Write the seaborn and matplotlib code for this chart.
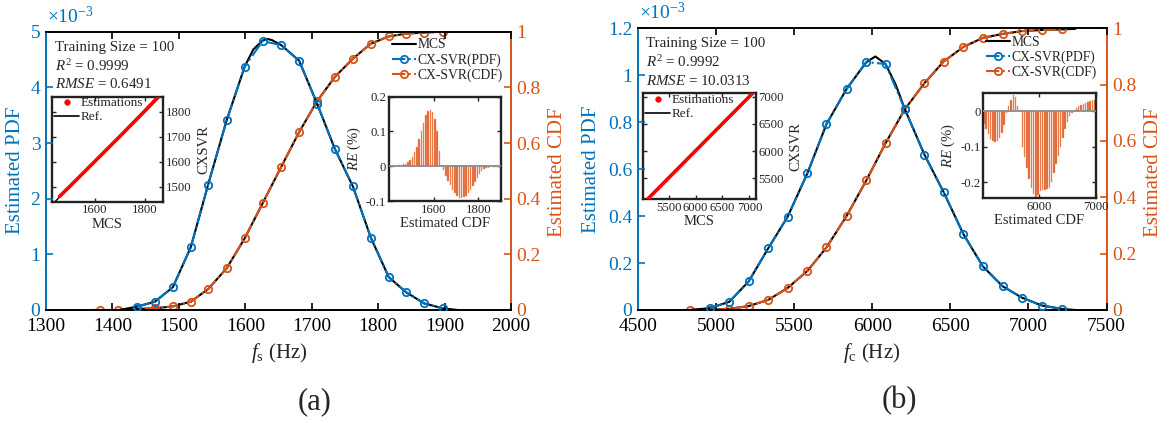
import numpy as np
import pandas as pd
import matplotlib
matplotlib.use("Agg")
import matplotlib.pyplot as plt
import seaborn as sns
from matplotlib.lines import Line2D

sns.set_style("ticks")
plt.rcParams["font.family"] = ["Liberation Serif", "DejaVu Serif"]
plt.rcParams["mathtext.fontset"] = "custom"
plt.rcParams["mathtext.rm"] = "Liberation Serif"
plt.rcParams["mathtext.it"] = "Liberation Serif:italic"
plt.rcParams["axes.unicode_minus"] = True

BLUE = "#0072BD"
ORANGE = "#D95319"

# ---------------- Panel (a) data ----------------
a_x = [1437, 1464, 1491, 1518, 1544, 1572, 1599, 1626, 1654, 1681, 1708, 1735,
       1762, 1789, 1816, 1842, 1869, 1897]
a_pdf = [0.06, 0.15, 0.41, 1.13, 2.25, 3.41, 4.37, 4.83, 4.76, 4.48, 3.71, 2.89,
         2.22, 1.30, 0.59, 0.32, 0.12, 0.03]          # x 1e-3
a_cdf_x = [1382, 1409] + a_x
a_cdf = [0.0, 0.0, 0.004, 0.006, 0.013, 0.03, 0.075, 0.15, 0.257, 0.383, 0.514,
         0.639, 0.75, 0.838, 0.903, 0.957, 0.983, 0.993, 0.997, 1.0]
a_mcs_pdf_x = [1410, 1437, 1464, 1491, 1518, 1544, 1572, 1599, 1612, 1626, 1633,
               1640, 1654, 1681, 1708, 1735, 1762, 1789, 1816, 1842, 1869, 1897, 1920]
a_mcs_pdf = [0.0, 0.06, 0.15, 0.41, 1.13, 2.25, 3.41, 4.37, 4.68, 4.84, 4.87,
             4.85, 4.76, 4.48, 3.71, 2.89, 2.22, 1.30, 0.59, 0.32, 0.12, 0.03, 0.0]
a_mcs_cdf_x = [1370] + a_cdf_x + [1920]
a_mcs_cdf = [0.0] + a_cdf + [1.0]

a_est_mcs = [1458, 1500, 1550, 1600, 1650, 1700, 1750, 1800, 1850, 1875]
a_est_cx = [1461, 1502, 1552, 1602, 1652, 1702, 1753, 1804, 1857, 1878]
a_ref = [1427, 1873]

a_re_x = list(range(1405, 1900, 10))
a_re = [0.001, 0.001, 0.002, 0.002, 0.003, 0.004, 0.005, 0.007, 0.011, 0.018,
        0.027, 0.040, 0.056, 0.077, 0.100, 0.125, 0.148, 0.160, 0.163, 0.155,
        0.135, 0.100, 0.045, 0.004, -0.012, -0.027, -0.042, -0.055, -0.067, -0.078,
        -0.086, -0.090, -0.090, -0.088, -0.085, -0.078, -0.068, -0.057, -0.045, -0.034,
        -0.023, -0.014, -0.009, -0.005, -0.004, -0.003, -0.003, -0.002, -0.002, -0.002]

# ---------------- Panel (b) data ----------------
b_x = [4960, 5085, 5209, 5334, 5458, 5585, 5707, 5836, 5962, 6085, 6209, 6334,
       6457, 6584, 6708, 6835, 6957, 7086, 7212]
b_pdf = [0.008, 0.035, 0.122, 0.263, 0.397, 0.583, 0.792, 0.942, 1.056, 1.048,
         0.855, 0.662, 0.502, 0.323, 0.186, 0.101, 0.053, 0.019, 0.005]   # x 1e-3
b_cdf_x = [4835] + b_x
b_cdf = [0.0, 0.001, 0.004, 0.014, 0.036, 0.078, 0.139, 0.222, 0.334, 0.46, 0.592,
         0.713, 0.805, 0.882, 0.934, 0.966, 0.98, 0.99, 0.994, 0.996]
b_mcs_pdf_x = [4830, 4960, 5085, 5209, 5334, 5458, 5585, 5707, 5836, 5962, 6020,
               6085, 6150, 6209, 6334, 6457, 6584, 6708, 6835, 6957, 7086, 7212, 7300]
b_mcs_pdf = [0.0, 0.008, 0.035, 0.122, 0.263, 0.397, 0.583, 0.792, 0.942, 1.056,
             1.080, 1.048, 0.96, 0.855, 0.662, 0.502, 0.323, 0.186, 0.101, 0.053,
             0.019, 0.005, 0.0]
b_mcs_cdf_x = [4800] + b_cdf_x + [7300]
b_mcs_cdf = [0.0] + b_cdf + [0.998]

b_est_mcs = [5120, 5500, 6000, 6500, 7000, 7070]
b_est_cx = [5125, 5505, 6005, 6505, 7004, 7075]
b_ref = [5033, 7115]

b_re_x = list(range(5020, 7000, 40))
b_re = [-0.035, -0.05, -0.065, -0.077, -0.084, -0.086, -0.083, -0.075, -0.062, -0.04,
        -0.005, 0.015, 0.03, 0.045, 0.04, 0.015, 0.002, -0.10, -0.13, -0.16,
        -0.19, -0.215, -0.232, -0.24, -0.235, -0.225, -0.222, -0.222, -0.22, -0.215,
        -0.2, -0.175, -0.15, -0.125, -0.1, -0.075, -0.05, -0.03, -0.015, -0.005,
        0.004, 0.01, 0.015, 0.018, 0.02, 0.022, 0.025, 0.028, 0.03, 0.032]

W, H = 1170, 423
fig = plt.figure(figsize=(W / 100, H / 100), dpi=100)


def px_rect(x0, y0, x1, y1):
    return [x0 / W, 1 - y1 / H, (x1 - x0) / W, (y1 - y0) / H]


def main_panel(rect, xs, pdf, cdfx, cdf, mx, mpdf, mcx, mcdf, xlim, ylim, xticks, yticks):
    ax = fig.add_axes(rect)
    ax2 = ax.twinx()
    ax.set_zorder(ax2.get_zorder() + 1)
    ax.patch.set_visible(False)
    lw = 1.5
    sns.lineplot(x=mx, y=mpdf, ax=ax, color="black", lw=lw, sort=False, zorder=2)
    sns.lineplot(x=xs, y=pdf, ax=ax, color=BLUE, lw=lw, ls="-.", marker="o",
                 markerfacecolor="none", markeredgecolor=BLUE, markeredgewidth=1.3,
                 markersize=5.3, sort=False, zorder=3)
    sns.lineplot(x=mcx, y=mcdf, ax=ax2, color="black", lw=lw, sort=False, zorder=2)
    sns.lineplot(x=cdfx, y=cdf, ax=ax2, color=ORANGE, lw=lw, ls="-.", marker="o",
                 markerfacecolor="none", markeredgecolor=ORANGE, markeredgewidth=1.3,
                 markersize=5.3, sort=False, zorder=3)
    ax.set_xlim(*xlim)
    ax.set_ylim(*ylim)
    ax2.set_ylim(0, 1)
    ax.set_xticks(xticks)
    ax.set_yticks(yticks)
    ax.set_yticklabels(["%g" % v for v in yticks])
    ax2.set_yticks([0, 0.2, 0.4, 0.6, 0.8, 1])
    ax2.set_yticklabels(["%g" % v for v in [0, 0.2, 0.4, 0.6, 0.8, 1]])
    for a in (ax, ax2):
        a.set_xlabel("")
        a.set_ylabel("")
        for s in a.spines.values():
            s.set_linewidth(1.4)
    ax.spines["right"].set_visible(False)
    ax.spines["left"].set_color(BLUE)
    ax.spines["top"].set_color("black")
    ax.spines["bottom"].set_color("black")
    for s in ("left", "top", "bottom"):
        ax2.spines[s].set_visible(False)
    ax2.spines["right"].set_color(ORANGE)
    ax.tick_params(axis="x", direction="in", top=True, length=5, width=1.2,
                   labelsize=14, pad=6, colors="black")
    ax.tick_params(axis="y", direction="in", length=5, width=1.2, labelsize=14,
                   pad=4, colors=BLUE, right=False)
    ax2.tick_params(axis="y", direction="in", length=5, width=1.2, labelsize=14,
                    pad=4, colors=ORANGE)
    return ax, ax2


def scatter_inset(rect, em, ec, ref, xlim, ylim, xticks, yticks, legend_anchor):
    ia = fig.add_axes(rect)
    ia.set_facecolor("white")
    sns.lineplot(x=ref, y=ref, ax=ia, color="black", lw=1.0, sort=False, zorder=2)
    sns.lineplot(x=em, y=ec, ax=ia, color="red", lw=2.6, sort=False, zorder=3)
    ia.set_xlim(*xlim)
    ia.set_ylim(*ylim)
    ia.set_xticks(xticks)
    ia.set_yticks(yticks)
    ia.yaxis.tick_right()
    ia.yaxis.set_label_position("right")
    ia.tick_params(direction="in", top=True, right=True, left=True, bottom=True,
                   length=3, width=1.0, labelsize=9.2, pad=2, labelleft=False,
                   labelright=True)
    for s in ia.spines.values():
        s.set_linewidth(1.7)
        s.set_color("#222222")
    ia.set_xlabel("MCS", fontsize=10.5, labelpad=1)
    ia.set_ylabel("CXSVR", fontsize=10.5, labelpad=4)
    handles = [Line2D([], [], color="red", marker="o", ls="none", ms=3.5),
               Line2D([], [], color="black", lw=1.2)]
    fig.legend(handles, ["Estimations", "Ref."], loc="upper left",
               bbox_to_anchor=legend_anchor, frameon=False, fontsize=9.5,
               borderpad=0, borderaxespad=0, handlelength=1.9, handletextpad=0.1,
               labelspacing=0.15)
    return ia


def re_inset(rect, rx, re, xlim, ylim, xticks, yticks, width):
    ia = fig.add_axes(rect)
    ia.set_facecolor("white")
    ia.bar(rx, re, width=width, color="#E0612A", edgecolor="#F0A080",
           linewidth=0.3, zorder=2)
    ia.axhline(0, color="#8C8C8C", lw=1.3, zorder=3)
    ia.set_xlim(*xlim)
    ia.set_ylim(*ylim)
    ia.set_xticks(xticks)
    ia.set_yticks(yticks)
    ia.set_yticklabels(["%g" % v for v in yticks])
    ia.tick_params(direction="in", top=True, right=True, length=3, width=1.0,
                   labelsize=9.2, pad=2)
    for s in ia.spines.values():
        s.set_linewidth(1.7)
        s.set_color("#222222")
    ia.set_xlabel("Estimated CDF", fontsize=10.5, labelpad=1)
    ia.set_ylabel(r"$RE$ (%)", fontsize=10.5, labelpad=2)
    return ia


def main_legend(anchor):
    handles = [Line2D([], [], color="black", lw=1.5),
               Line2D([], [], color=BLUE, lw=1.5, ls="-.", marker="o", mfc="none",
                      mec=BLUE, mew=1.3, ms=5.3),
               Line2D([], [], color=ORANGE, lw=1.5, ls="-.", marker="o", mfc="none",
                      mec=ORANGE, mew=1.3, ms=5.3)]
    fig.legend(handles, ["MCS", "CX-SVR(PDF)", "CX-SVR(CDF)"], loc="upper left",
               bbox_to_anchor=anchor, frameon=False, fontsize=9.8, borderpad=0,
               borderaxespad=0, handlelength=1.8, handletextpad=0.1,
               labelspacing=0.12)


def textbox(x, y_rows, r2, rmse):
    fig.text(x / W, 1 - y_rows[0] / H, "Training Size = 100", fontsize=10.8,
             va="baseline", ha="left")
    fig.text(x / W, 1 - y_rows[1] / H, r"$R^2$ = " + r2, fontsize=10.8,
             va="baseline", ha="left")
    fig.text(x / W, 1 - y_rows[2] / H, r"$RMSE$ = " + rmse, fontsize=10.8,
             va="baseline", ha="left")


# ---------------- Draw panel (a) ----------------
main_panel(px_rect(46, 31.7, 511, 310), a_x, a_pdf, a_cdf_x, a_cdf, a_mcs_pdf_x,
           a_mcs_pdf, a_mcs_cdf_x, a_mcs_cdf, (1300, 2000), (0, 5),
           list(range(1300, 2001, 100)), [0, 1, 2, 3, 4, 5])
scatter_inset(px_rect(51.7, 96.7, 163.3, 201.7), a_est_mcs, a_est_cx, a_ref,
              (1427, 1873), (1440, 1860), [1600, 1800], [1500, 1600, 1700, 1800],
              (54 / W, 1 - 97 / H))
re_inset(px_rect(389, 96.7, 500.7, 201), a_re_x, a_re, (1400, 1900), (-0.1, 0.2),
         [1600, 1800], [-0.1, 0, 0.1, 0.2], 6.5)
main_legend((392 / W, 1 - 38.5 / H))
textbox(55, [50.7, 70.7, 88.3], "0.9999", "0.6491")
fig.text(47 / W, 1 - 23 / H, r"$\times10^{-3}$", color=BLUE, fontsize=14,
         ha="left", va="baseline")
fig.text(16 / W, 1 - 170 / H, "Estimated PDF", color=BLUE, fontsize=15,
         rotation=90, ha="center", va="center")
fig.text(558 / W, 1 - 172 / H, "Estimated CDF", color=ORANGE, fontsize=15,
         rotation=90, ha="center", va="center")
fig.text(279 / W, 1 - 353 / H, r"$f_{\rm s}$ (Hz)", fontsize=15, ha="center",
         va="center")
fig.text(315 / W, 1 - 402 / H, "(a)", fontsize=22, ha="center", va="center")

# ---------------- Draw panel (b) ----------------
main_panel(px_rect(638, 28.3, 1106.5, 310), b_x, b_pdf, b_cdf_x, b_cdf, b_mcs_pdf_x,
           b_mcs_pdf, b_mcs_cdf_x, b_mcs_cdf, (4500, 7500), (0, 1.2),
           list(range(4500, 7501, 500)), [0, 0.2, 0.4, 0.6, 0.8, 1.0, 1.2])
scatter_inset(px_rect(643.3, 93.3, 755.7, 199), b_est_mcs, b_est_cx, b_ref,
              (5033, 7115), (5120, 7062), [5500, 6000, 6500, 7000],
              [5500, 6000, 6500, 7000], (645 / W, 1 - 94 / H))
re_inset(px_rect(983.3, 93.3, 1095.7, 198.3), b_re_x, b_re, (5010, 7000),
         (-0.245, 0.05), [6000, 7000], [-0.2, -0.1, 0], 26)
main_legend((985.5 / W, 1 - 36 / H))
textbox(646, [47.3, 67.3, 85], "0.9992", "10.0313")
fig.text(639 / W, 1 - 19 / H, r"$\times10^{-3}$", color=BLUE, fontsize=14,
         ha="left", va="baseline")
fig.text(592 / W, 1 - 169 / H, "Estimated PDF", color=BLUE, fontsize=15,
         rotation=90, ha="center", va="center")
fig.text(1153 / W, 1 - 172 / H, "Estimated CDF", color=ORANGE, fontsize=15,
         rotation=90, ha="center", va="center")
fig.text(872 / W, 1 - 353 / H, r"$f_{\rm c}$ (Hz)", fontsize=15, ha="center",
         va="center")
fig.text(899 / W, 1 - 401 / H, "(b)", fontsize=22, ha="center", va="center")

fig.savefig("out.png", dpi=100)
